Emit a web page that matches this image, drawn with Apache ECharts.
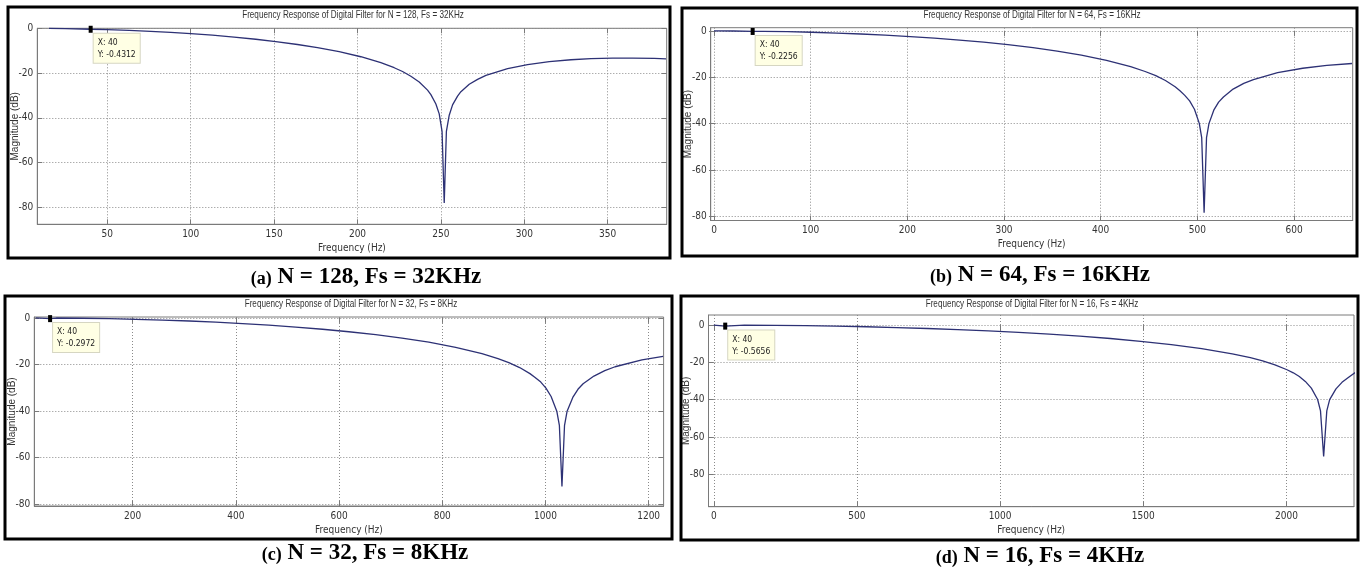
<!DOCTYPE html>
<html><head><meta charset="utf-8">
<script src="https://cdn.jsdelivr.net/npm/echarts@6/dist/echarts.min.js"></script>
<style>html,body{margin:0;padding:0;background:#fff}#c{width:1364px;height:572px}</style>
</head><body><div id="c"></div>
<script>
// ---------- data ----------
const titleA = 'Frequency Response of Digital Filter for N = 128, Fs = 32KHz';
const titleB = 'Frequency Response of Digital Filter for N = 64, Fs = 16KHz';
const titleC = 'Frequency Response of Digital Filter for N = 32, Fs = 8KHz';
const titleD = 'Frequency Response of Digital Filter for N = 16, Fs = 4KHz';
const captionTagA = '(a)', captionA = 'N = 128, Fs = 32KHz';
const captionTagB = '(b)', captionB = 'N = 64, Fs = 16KHz';
const captionTagC = '(c)', captionC = 'N = 32, Fs = 8KHz';
const captionTagD = '(d)', captionD = 'N = 16, Fs = 4KHz';
const xAxisName = 'Frequency (Hz)';
const yAxisName = 'Magnitude (dB)';

const freqA = [15,25,40,50,63,76,88,100,113,126,139,151,164,176,189,202,214,222,227,232,237,242,244,247,249,250.7,252,253.3,255,257,260,262,267,272,277,290,302,315,328,340,353,365,378,385];
const magA  = [-0.05,-0.14,-0.4312,-0.57,-0.91,-1.34,-1.82,-2.38,-3.09,-3.92,-4.89,-5.92,-7.23,-8.62,-10.45,-12.7,-15.33,-17.6,-19.3,-21.4,-23.95,-27.6,-29.6,-33.8,-38.2,-46,-78,-46,-38.8,-34.2,-30.3,-28.3,-25.0,-22.8,-21.0,-18.0,-16.2,-14.9,-14.05,-13.55,-13.3,-13.28,-13.46,-13.65];
const tipA = [40, -0.4312];
const xTicksA = [50,100,150,200,250,300,350];
const xRangeA = [8, 385.4], yRangeA = [-87.5, 0];

const freqB = [0,20,40,51,76,101,127,152,177,203,228,254,279,304,330,355,380,406,431,446,457,467,477,482,487,492,497,502,504.5,507,509.5,512,517,522,527,537,548,558,583,609,634,660];
const magB  = [0,-0.02,-0.2256,-0.145,-0.32,-0.57,-0.92,-1.32,-1.82,-2.42,-3.11,-3.94,-4.86,-5.94,-7.23,-8.69,-10.43,-12.66,-15.39,-17.5,-19.3,-21.4,-24.1,-25.8,-27.8,-30.2,-33.8,-39.9,-46,-78.5,-46,-40,-34.2,-30.7,-28.5,-25.1,-22.6,-21.0,-18.0,-16.1,-14.9,-14.05];
const tipB = [40, -0.2256];
const xTicksB = [0,100,200,300,400,500,600];
const xRangeB = [-3.4, 660.7], yRangeB = [-81.8, 1.4];

const freqC = [12,40,52,103,155,206,258,310,361,413,464,516,568,619,671,722,774,826,877,908,929,950,970,980,991,1001,1011,1022,1027,1032,1037,1042,1053,1063,1073,1094,1115,1135,1187,1228];
const magC  = [0,-0.2972,-0.04,-0.14,-0.32,-0.58,-0.91,-1.33,-1.83,-2.42,-3.11,-3.92,-4.86,-5.94,-7.2,-8.67,-10.45,-12.64,-15.38,-17.5,-19.2,-21.35,-23.95,-25.6,-27.6,-30.2,-33.8,-40.1,-46.2,-72.5,-46.2,-40.1,-34.2,-30.7,-28.3,-25.0,-22.7,-21.0,-18.0,-16.5];
const tipC = [40, -0.2972];
const xTicksC = [200,400,600,800,1000,1200];
const xRangeC = [9.4, 1229], yRangeC = [-80.9, 0.4];

const freqD = [0,40,107,213,320,426,533,639,746,852,959,1065,1172,1278,1385,1491,1598,1704,1811,1874,1917,1960,2002,2024,2045,2066,2087,2109,2119,2130,2141,2151,2173,2194,2215,2240];
const magD  = [0,-0.5656,-0.04,-0.14,-0.32,-0.58,-0.91,-1.33,-1.83,-2.42,-3.12,-3.92,-4.86,-5.94,-7.2,-8.69,-10.45,-12.62,-15.4,-17.5,-19.2,-21.3,-23.95,-25.6,-27.6,-30.2,-33.8,-39.9,-46,-70.5,-46,-40,-34.2,-30.7,-28.3,-25.5];
const tipD = [40, -0.5656];
const xTicksD = [0,500,1000,1500,2000];
const xRangeD = [-18.4, 2236], yRangeD = [-97.4, 5.4];

const yTicks = [0,-20,-40,-60,-80];

// ---------- layout / style ----------
const layout = [
  {grid:{left:37.3, top:28.3, width:629.4, height:196}, border:[8,7,662,251], title:[353,15], caption:[366,277]},
  {grid:{left:710.7, top:27.7, width:642, height:192.8}, border:[682,8,675,248], title:[1032,15], caption:[1040,275]},
  {grid:{left:34.3, top:317, width:629.3, height:189}, border:[5,296,667,243], title:[351,304], caption:[365,553]},
  {grid:{left:708.5, top:315, width:645.5, height:191.7}, border:[681,296,677,244], title:[1032,304], caption:[1040,556]}
];
const panels = [
  {freq:freqA, mag:magA, tip:tipA, xTicks:xTicksA, xr:xRangeA, yr:yRangeA, title:titleA, tag:captionTagA, cap:captionA},
  {freq:freqB, mag:magB, tip:tipB, xTicks:xTicksB, xr:xRangeB, yr:yRangeB, title:titleB, tag:captionTagB, cap:captionB},
  {freq:freqC, mag:magC, tip:tipC, xTicks:xTicksC, xr:xRangeC, yr:yRangeC, title:titleC, tag:captionTagC, cap:captionC},
  {freq:freqD, mag:magD, tip:tipD, xTicks:xTicksD, xr:xRangeD, yr:yRangeD, title:titleD, tag:captionTagD, cap:captionD}
];
const NARROW = "'Liberation Sans Narrow','DejaVu Sans Condensed','Liberation Sans',sans-serif";
const AXIS = '#7a7a7a';
const LABEL = '#333';
const plain = v => String(v);

const grids = [], xAxes = [], yAxes = [], series = [], graphics = [];
panels.forEach((p, i) => {
  const L = layout[i];
  grids.push(Object.assign({show:true, borderColor:AXIS, borderWidth:1, backgroundColor:'#fff', containLabel:false}, L.grid));
  xAxes.push({type:'value', gridIndex:i, min:p.xr[0], max:p.xr[1], position:'bottom',
    axisLine:{show:true, onZero:false, lineStyle:{color:AXIS}},
    axisTick:{show:true, inside:true, length:5, customValues:p.xTicks, lineStyle:{color:AXIS}},
    axisLabel:{show:true, customValues:p.xTicks, formatter:plain, margin:5, fontFamily:NARROW, fontSize:10, color:LABEL},
    splitLine:{show:true, lineStyle:{type:[1,2], color:'#8a8a8a', width:1}},
    name:xAxisName, nameLocation:'middle', nameGap:19, nameMoveOverlap:false,
    nameTextStyle:{fontFamily:NARROW, fontSize:10, color:LABEL}});
  xAxes.push({type:'value', gridIndex:i, min:p.xr[0], max:p.xr[1], position:'top',
    axisLine:{show:false}, axisLabel:{show:false}, splitLine:{show:false},
    axisTick:{show:true, inside:true, length:5, customValues:p.xTicks, lineStyle:{color:AXIS}}});
  yAxes.push({type:'value', gridIndex:i, min:p.yr[0], max:p.yr[1], position:'left',
    axisLine:{show:true, onZero:false, lineStyle:{color:AXIS}},
    axisTick:{show:true, inside:true, length:5, customValues:yTicks, lineStyle:{color:AXIS}},
    axisLabel:{show:true, customValues:yTicks, formatter:plain, margin:4, fontFamily:NARROW, fontSize:10, color:LABEL},
    splitLine:{show:true, lineStyle:{type:[1,2], color:'#8a8a8a', width:1}},
    name:yAxisName, nameLocation:'middle', nameGap:17, nameMoveOverlap:false,
    nameTextStyle:{fontFamily:"'Liberation Sans',Arial,sans-serif", fontSize:10, color:LABEL}});
  yAxes.push({type:'value', gridIndex:i, min:p.yr[0], max:p.yr[1], position:'right',
    axisLine:{show:false}, axisLabel:{show:false}, splitLine:{show:false},
    axisTick:{show:true, inside:true, length:5, customValues:yTicks, lineStyle:{color:AXIS}}});
  series.push({type:'line', xAxisIndex:2*i, yAxisIndex:2*i, clip:false,
    data:p.freq.map((f,k)=>[f, p.mag[k]]), showSymbol:false, symbol:'none',
    lineStyle:{color:'#2d3175', width:1.3}, animation:false,
    markPoint:{symbol:'rect', symbolSize:[4,7], itemStyle:{color:'#000'}, animation:false,
      data:[{coord:p.tip, label:{show:true, position:[5,8], formatter:'X: ' + p.tip[0] + '\nY: ' + p.tip[1],
        fontFamily:NARROW, fontSize:8.5, lineHeight:12, color:'#222', align:'left', verticalAlign:'top',
        backgroundColor:'#ffffe4', borderColor:'#d6d6c2', borderWidth:1, padding:[3,4,2,4]}}]}});
  graphics.push({type:'rect', shape:{x:L.border[0], y:L.border[1], width:L.border[2], height:L.border[3]},
    style:{fill:null, stroke:'#000', lineWidth:3}, z:100});
  graphics.push({type:'text', x:L.title[0], y:L.title[1], scaleX:0.74,
    style:{text:p.title, fontFamily:"'Liberation Sans',Arial,sans-serif", fontSize:11, fill:'#333', textAlign:'center', textVerticalAlign:'middle'}, z:100});
  graphics.push({type:'text', x:L.caption[0], y:L.caption[1],
    style:{text:'{t|' + p.tag + '}{m| ' + p.cap + '}', textAlign:'center', textVerticalAlign:'middle',
      rich:{t:{fontFamily:"'Liberation Serif','Times New Roman',serif", fontWeight:'bold', fontSize:18, fill:'#000', verticalAlign:'bottom'},
            m:{fontFamily:"'Liberation Serif','Times New Roman',serif", fontWeight:'bold', fontSize:23, fill:'#000'}}}, z:100});
});

const chart = echarts.init(document.getElementById('c'), null, {renderer:'canvas'});
chart.setOption({animation:false, backgroundColor:'#fff', grid:grids, xAxis:xAxes, yAxis:yAxes, series:series, graphic:graphics});
</script></body></html>
